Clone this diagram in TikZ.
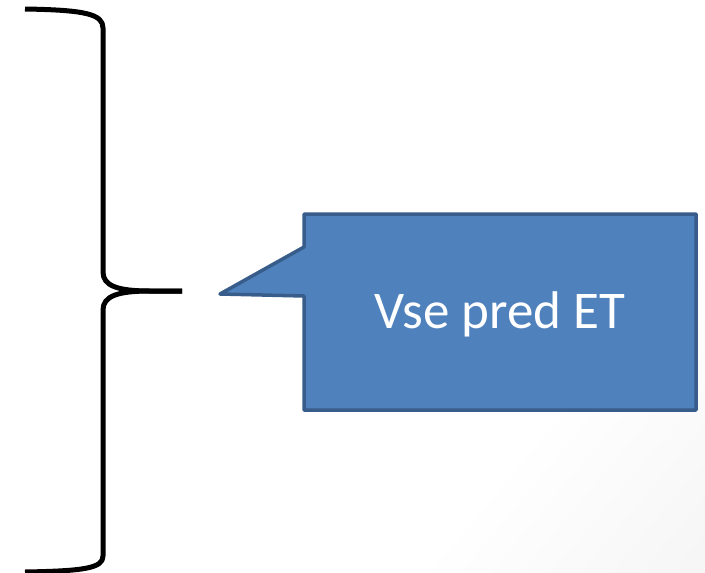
\documentclass[tikz,border=0pt]{standalone}
\usepackage{fontspec}
\setmainfont{Carlito}
\definecolor{calloutfill}{HTML}{4F81BD}
\definecolor{calloutline}{HTML}{385D8A}
\pgfdeclarehorizontalshading{bgfade}{100bp}{color(0bp)=(white); color(68bp)=(white); color(100bp)=(black!7)}
\tikzset{
  bracestyle/.style={line width=5pt, line cap=butt, line join=round, black},
  calloutstyle/.style={line width=3.5pt, draw=calloutline, fill=calloutfill, line join=round},
  labelstyle/.style={text=white, font=\fontsize{53}{60}\selectfont, inner sep=0pt}
}
\begin{document}
\begin{tikzpicture}[x=1pt,y=-1pt]
\useasboundingbox (0,0) rectangle (705,573);
% faint background gradient at bottom-right
\shade[shading=bgfade, shading angle=-40] (0,0) rectangle (705,573);
% brace
\draw[bracestyle] (25,9) .. controls (85,10) and (103,14) .. (103,28)
  -- (103,272) .. controls (103,286) and (118,291) .. (150,291) -- (182,291);
\draw[bracestyle] (182,291) -- (150,291) .. controls (118,291) and (103,296) .. (103,310)
  -- (103,556) .. controls (103,568) and (85,571) .. (25,572);
% callout
\draw[calloutstyle] (304,214) -- (696,214) -- (696,410) -- (304,410) -- (304,296)
  -- (220,294) -- (304,247) -- cycle;
\node[labelstyle] (lbl) at (500,314) {Vse pred ET};
\end{tikzpicture}
\end{document}
